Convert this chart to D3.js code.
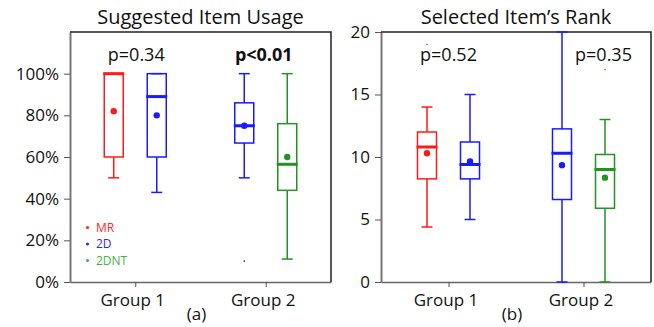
<!DOCTYPE html>
<html>
<head>
<meta charset="utf-8">
<script src="https://cdn.jsdelivr.net/npm/d3@7"></script>
<style>
  body { margin: 0; background: #fff; }
  svg { font-family: "Open Sans", sans-serif; }
</style>
</head>
<body>
<svg id="chart" width="654" height="327"></svg>
<script>
// categories
const groups = ['Group 1', 'Group 2'];
const seriesNames = ['MR', '2D', '2DNT'];

// (a) suggested item usage, one entry per box
const usageGroup = ['Group 1', 'Group 1', 'Group 2', 'Group 2'];
const usageSeries = ['MR', '2D', '2D', '2DNT'];
const usageLow = [0.50, 0.43, 0.50, 0.11];
const usageQ1 = [0.60, 0.60, 0.667, 0.44];
const usageMedian = [1.00, 0.89, 0.75, 0.565];
const usageQ3 = [1.00, 1.00, 0.86, 0.76];
const usageHigh = [1.00, 1.00, 1.00, 1.00];
const usageMean = [0.82, 0.80, 0.75, 0.60];
const usageOutliers = [[], [], [0.10], []];
const usagePLabels = ['p=0.34', 'p<0.01'];
const usageTicks = [0, 0.2, 0.4, 0.6, 0.8, 1.0];

// (b) selected item's rank
const rankGroup = ['Group 1', 'Group 1', 'Group 2', 'Group 2'];
const rankSeries = ['MR', '2D', '2D', '2DNT'];
const rankLow = [4.4, 5.0, 0, 0];
const rankQ1 = [8.25, 8.25, 6.6, 5.9];
const rankMedian = [10.8, 9.4, 10.3, 9.0];
const rankQ3 = [12.0, 11.2, 12.25, 10.2];
const rankHigh = [14, 15, 20, 13];
const rankMean = [10.3, 9.65, 9.35, 8.35];
const rankOutliers = [[19], [], [], [17]];
const rankPLabels = ['p=0.52', 'p=0.35'];
const rankTicks = [0, 5, 10, 15, 20];

const color = d3.scaleOrdinal()
  .domain(seriesNames)
  .range(['#ff1a1a', '#1a1aff', '#239323']);
const legendColor = d3.scaleOrdinal()
  .domain(seriesNames)
  .range(['#ff2a2a', '#2a2aff', '#45b545']);

const svg = d3.select('#chart');

function panel(opts) {
  const { left, right, top, bottom } = opts;
  const g = svg.append('g');

  const x = d3.scalePoint().domain(groups).range([left, right]).padding(0.5);
  const slot = d3.scaleBand().domain([0, 1]).range([-43, 43]);
  const y = d3.scaleLinear().domain(opts.domain).range([bottom, top]);
  const boxW = 19;

  // y axis
  const ya = g.append('g')
    .attr('transform', `translate(${left},0)`)
    .call(d3.axisLeft(y).tickValues(opts.ticks).tickFormat(opts.fmt).tickSize(6).tickPadding(5).tickSizeOuter(0));
  ya.select('.domain').attr('stroke', '#777').attr('stroke-width', 2);
  ya.selectAll('.tick line').attr('stroke', '#555');
  ya.selectAll('.tick text').attr('font-size', 17).attr('fill', '#111')
    .attr('font-family', '"Open Sans", sans-serif');

  // x axis
  const xa = g.append('g')
    .attr('transform', `translate(0,${bottom})`)
    .call(d3.axisBottom(x).tickSize(5).tickPadding(7).tickSizeOuter(0));
  xa.select('.domain').attr('stroke', '#666').attr('stroke-width', 1.5);
  xa.selectAll('.tick line').attr('stroke', '#555');
  xa.selectAll('.tick text').attr('font-size', 17).attr('fill', '#111').attr('dx', -3)
    .attr('font-family', '"Open Sans", sans-serif');

  // top and right border
  g.append('path')
    .attr('d', `M${left},${top}H${right}V${bottom}`)
    .attr('fill', 'none').attr('stroke', '#222').attr('stroke-width', 1.5);

  // title and caption
  g.append('text')
    .attr('x', (left + right) / 2).attr('y', 24)
    .attr('text-anchor', 'middle').attr('font-size', 20).attr('fill', '#111')
    .text(opts.title);
  g.append('text')
    .attr('x', (left + right) / 2 - 4).attr('y', 320)
    .attr('text-anchor', 'middle').attr('font-size', 17).attr('fill', '#111')
    .text(opts.caption);

  // p-values
  g.selectAll('.pval')
    .data(opts.pLabels)
    .join('text')
    .attr('x', (d, i) => x(groups[i]) + opts.pdx[i])
    .attr('y', 61)
    .attr('text-anchor', 'middle')
    .attr('font-size', 18)
    .attr('font-weight', (d, i) => opts.pBold[i] ? 'bold' : 'normal')
    .attr('fill', '#111')
    .text(d => d);

  // boxes
  const boxes = opts.groupArr.map((grp, i) => ({
    grp, series: opts.seriesArr[i],
    lo: opts.lo[i], q1: opts.q1[i], med: opts.med[i], q3: opts.q3[i], hi: opts.hi[i],
    mean: opts.mean[i], out: opts.out[i],
    cx: x(grp) + slot(opts.groupArr.slice(0, i).filter(v => v === grp).length) + slot.bandwidth() / 2
  }));

  const b = g.selectAll('.box').data(boxes).join('g').attr('class', 'box');
  b.each(function (d) {
    const s = d3.select(this);
    const c = color(d.series);
    // whiskers
    s.append('line').attr('x1', d.cx).attr('x2', d.cx).attr('y1', y(d.q3)).attr('y2', y(d.hi))
      .attr('stroke', c).attr('stroke-width', 1.5);
    s.append('line').attr('x1', d.cx).attr('x2', d.cx).attr('y1', y(d.q1)).attr('y2', y(d.lo))
      .attr('stroke', c).attr('stroke-width', 1.5);
    [d.lo, d.hi].forEach(v => {
      s.append('line').attr('x1', d.cx - 5.5).attr('x2', d.cx + 5.5).attr('y1', y(v)).attr('y2', y(v))
        .attr('stroke', c).attr('stroke-width', 1.5);
    });
    // box
    s.append('rect')
      .attr('x', d.cx - boxW / 2).attr('width', boxW)
      .attr('y', y(d.q3)).attr('height', y(d.q1) - y(d.q3))
      .attr('fill', 'none').attr('stroke', c).attr('stroke-width', 1.5);
    // median
    s.append('line').attr('x1', d.cx - boxW / 2 - 1).attr('x2', d.cx + boxW / 2 + 1)
      .attr('y1', y(d.med)).attr('y2', y(d.med))
      .attr('stroke', c).attr('stroke-width', 3);
    // mean
    s.append('circle').attr('cx', d.cx).attr('cy', y(d.mean)).attr('r', 3.2).attr('fill', c);
    // outliers
    s.selectAll('.out').data(d.out).join('circle')
      .attr('cx', d.cx).attr('cy', v => y(v)).attr('r', 0.8).attr('fill', c);
  });
  return g;
}

panel({
  left: 70, right: 331, top: 32, bottom: 282,
  domain: [0, 1.2], ticks: usageTicks, fmt: d3.format('.0%'),
  title: 'Suggested Item Usage', caption: '(a)',
  pLabels: usagePLabels, pBold: [false, true], pdx: [1, -2],
  groupArr: usageGroup, seriesArr: usageSeries,
  lo: usageLow, q1: usageQ1, med: usageMedian, q3: usageQ3, hi: usageHigh,
  mean: usageMean, out: usageOutliers
});

panel({
  left: 381, right: 651, top: 32, bottom: 282,
  domain: [0, 20], ticks: rankTicks, fmt: d3.format('d'),
  title: 'Selected Item\u2019s Rank', caption: '(b)',
  pLabels: rankPLabels, pBold: [false, false], pdx: [0, 20],
  groupArr: rankGroup, seriesArr: rankSeries,
  lo: rankLow, q1: rankQ1, med: rankMedian, q3: rankQ3, hi: rankHigh,
  mean: rankMean, out: rankOutliers
});

// legend
const legend = svg.append('g');
legend.selectAll('circle')
  .data(seriesNames)
  .join('circle')
  .attr('cx', 87.5).attr('cy', (d, i) => 227.5 + i * 16.5).attr('r', 1.6)
  .attr('fill', d => legendColor(d));
legend.selectAll('text')
  .data(seriesNames)
  .join('text')
  .attr('x', 96).attr('y', (d, i) => 231.5 + i * 16.5)
  .attr('font-size', 12)
  .attr('fill', d => legendColor(d))
  .text(d => d);
</script>
</body>
</html>
